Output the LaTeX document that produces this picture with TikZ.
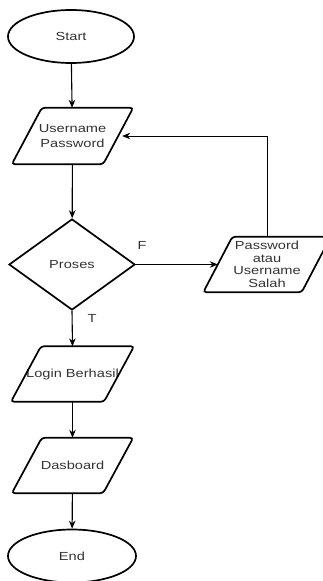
\documentclass[tikz,border=0pt]{standalone}
\usepackage{fontspec}
\setmainfont{Liberation Sans}
\newfontfamily\labfont[FakeStretch=1.25]{Liberation Sans}
\usetikzlibrary{shapes.geometric,arrows.meta}
\definecolor{txt}{HTML}{333333}
\tikzset{
  shp/.style={draw=black, line width=1.7pt},
  lab/.style={font=\labfont\fontsize{11.7}{13}\selectfont, text=txt},
  term/.style={shp, lab, ellipse, minimum width=126pt, minimum height=53pt, inner sep=0pt},
  dec/.style={shp, lab, diamond, minimum width=126pt, minimum height=91pt, inner sep=0pt},
  iobox/.style={lab, rectangle, draw=none, minimum height=56pt, inner sep=0pt, align=center},
  conn/.style={line width=1.1pt, -{Stealth[length=8pt,width=6.5pt]}},
  thinconn/.style={conn, line width=0.8pt}
}
\newcommand\ioshape[2]{%
  \draw[shp, rounded corners=3pt] ([xshift=#2]#1.north west) -- ([xshift=#2]#1.north east)
    -- ([xshift=-#2]#1.south east) -- ([xshift=-#2]#1.south west) -- cycle;}
\begin{document}
\begin{tikzpicture}[x=1pt,y=-1pt]
  \useasboundingbox (0,0) rectangle (322,581);
  \node[term] (start) at (71,36.5) {Start};
  \node[iobox, minimum width=91pt, font=\labfont\fontsize{11.7}{15}\selectfont] (user) at (72.5,136) {Username\\Password};
  \ioshape{user}{15pt}
  \node[dec] (proc) at (72,264.5) {Proses};
  \node[iobox, minimum width=98pt, minimum height=55pt, font=\labfont\fontsize{11.7}{12.5}\selectfont] (err) at (267,264.5) {Password\\atau\\Username\\Salah};
  \ioshape{err}{14.5pt}
  \node[iobox, minimum width=91pt, minimum height=55pt] (login) at (72.5,374) {Login Berhasil};
  \ioshape{login}{15pt}
  \node[iobox, minimum width=91pt, minimum height=55pt] (dash) at (72.5,465.5) {Dasboard};
  \ioshape{dash}{15pt}
  \node[term, minimum width=128pt] (end) at (72,556) {End};

  \draw[conn] (start) -- (user);
  \draw[conn] (user) -- (proc);
  \draw[thinconn] (proc.east) -- (err.west);
  \draw[thinconn] (err.north) |- ([xshift=4pt]user.east);
  \draw[conn] (proc.south) -- (login.north);
  \draw[conn] (login) -- (dash);
  \draw[conn] (dash) -- (end);

  \node[lab] (flab) at (142,245) {F};
  \node[lab] (tlab) at (92,318) {T};
\end{tikzpicture}
\end{document}
